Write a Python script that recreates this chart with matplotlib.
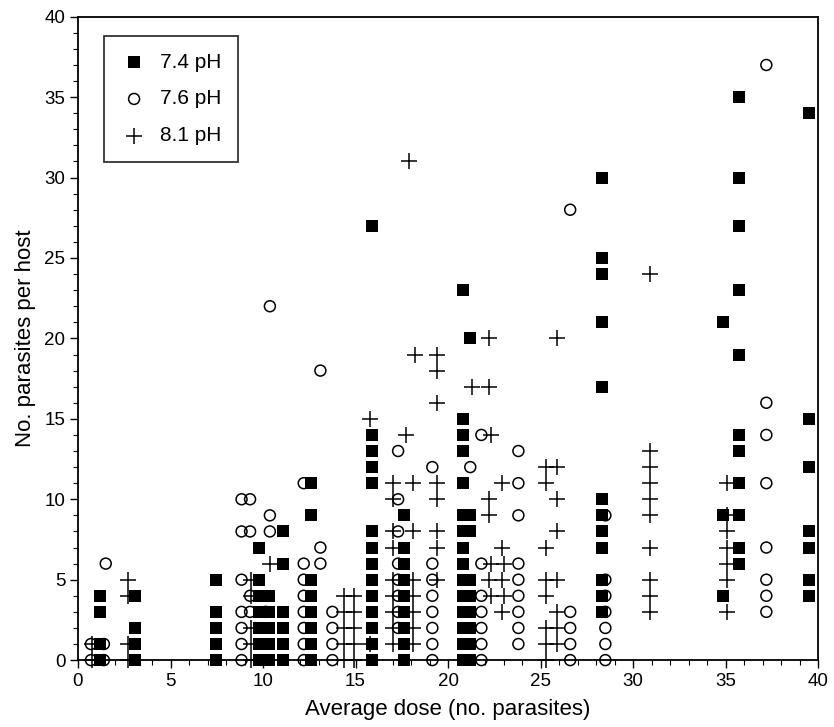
import numpy as np
import matplotlib.pyplot as plt
from matplotlib.ticker import MultipleLocator

plt.rcParams['font.family'] = ['Liberation Sans', 'DejaVu Sans']

# each column: (average dose, counts of parasites per host)
ph74_cols = [
    (1.2, [0, 1, 3, 4]),
    (3.1, [0, 1, 2, 4]),
    (7.45, [0, 1, 2, 3, 5]),
    (9.8, [0, 1, 2, 3, 4, 5, 7]),
    (10.3, [0, 1, 2, 3, 4]),
    (11.1, [0, 1, 2, 3, 6, 8]),
    (12.6, [0, 1, 2, 3, 4, 5, 9, 11]),
    (15.9, [0, 1, 2, 3, 4, 5, 6, 7, 8, 11, 12, 13, 14, 27]),
    (17.6, [0, 1, 2, 3, 4, 5, 6, 7, 9]),
    (20.8, [0, 1, 2, 3, 4, 5, 6, 7, 8, 9, 11, 13, 14, 15, 23]),
    (21.2, [0, 1, 2, 3, 4, 5, 8, 9, 20]),
    (28.3, [3, 4, 5, 7, 8, 9, 10, 17, 21, 24, 25, 30]),
    (34.85, [4, 9, 21]),
    (35.7, [6, 7, 9, 11, 13, 14, 19, 23, 27, 30, 35]),
    (39.5, [4, 5, 7, 8, 12, 15, 34]),
]

ph76_cols = [
    (0.7, [0, 1]),
    (1.4, [0, 1]),
    (1.5, [6]),
    (8.84, [0, 1, 2, 3, 5, 8, 10]),
    (9.3, [3, 4, 8, 10]),
    (10.37, [8, 9, 22]),
    (10.15, [3]),
    (12.2, [0, 1, 2, 3, 4, 5, 6, 11]),
    (13.1, [6, 7, 18]),
    (13.75, [0, 1, 2, 3]),
    (17.3, [2, 3, 4, 5, 6, 8, 10, 13]),
    (19.15, [0, 1, 2, 3, 4, 5, 6, 12]),
    (21.2, [12]),
    (21.8, [0, 1, 2, 3, 4, 6, 14]),
    (23.8, [1, 2, 3, 4, 5, 6, 9, 11, 13]),
    (26.6, [0, 1, 2, 3, 28]),
    (28.5, [0, 1, 2, 3, 4, 5, 9]),
    (37.2, [3, 4, 5, 7, 11, 14, 16, 37]),
]

ph81_cols = [
    (0.74, [0, 1]),
    (2.7, [0, 1, 4, 5]),
    (9.35, [0, 1, 2, 4, 5]),
    (10.4, [6]),
    (14.4, [0, 1, 2, 3, 4]),
    (14.9, [0, 1, 2, 3, 4]),
    (15.8, [1, 15]),
    (17.0, [1, 2, 3, 4, 5, 7, 8, 10, 11]),
    (17.7, [14]),
    (17.9, [31]),
    (18.1, [1, 2, 3, 4, 5, 8, 11]),
    (18.2, [19]),
    (19.4, [5, 7, 8, 10, 11, 16, 18, 19]),
    (21.3, [17]),
    (22.2, [5, 9, 10, 17, 20]),
    (22.3, [4, 6, 14]),
    (22.9, [3, 5, 7, 11]),
    (23.0, [4, 6]),
    (25.3, [0, 1, 2, 4, 5, 7, 11, 12]),
    (25.9, [1, 2, 3, 5, 8, 10, 12, 20]),
    (30.9, [3, 4, 5, 7, 9, 10, 11, 12, 13, 24]),
    (35.1, [3, 5, 6, 7, 8, 9, 11]),
]


def expand(cols):
    xs, ys = [], []
    for x, vals in cols:
        for v in vals:
            xs.append(x)
            ys.append(v)
    return np.array(xs), np.array(ys)


fig = plt.figure(figsize=(8.34, 7.27), dpi=100)
ax = fig.add_axes([0.0935, 0.092, 0.8875, 0.885])

x1, y1 = expand(ph74_cols)
x2, y2 = expand(ph76_cols)
x3, y3 = expand(ph81_cols)

ax.scatter(x1, y1, marker='s', s=72, c='black', linewidths=0, label='7.4 pH', clip_on=False, zorder=3)
ax.scatter(x2, y2, marker='o', s=62, facecolors='none', edgecolors='black', linewidths=1.1, label='7.6 pH', clip_on=False, zorder=3)
ax.scatter(x3, y3, marker='+', s=135, c='black', linewidths=1.1, label='8.1 pH', clip_on=False, zorder=3)

ax.set_xlim(0, 40)
ax.set_ylim(0, 40)
ax.xaxis.set_major_locator(MultipleLocator(5))
ax.yaxis.set_major_locator(MultipleLocator(5))
ax.xaxis.set_minor_locator(MultipleLocator(1))
ax.yaxis.set_minor_locator(MultipleLocator(1))
ax.tick_params(which='major', direction='out', length=6, width=1, labelsize=13.5, pad=3)
ax.tick_params(which='minor', direction='out', length=3.5, width=0.8)
for sp in ax.spines.values():
    sp.set_linewidth(1.3)

ax.set_xlabel('Average dose (no. parasites)', fontsize=16, labelpad=7)
ax.set_ylabel('No. parasites per host', fontsize=16, labelpad=6)

leg = ax.legend(loc='upper left', bbox_to_anchor=(0.035, 0.97), fontsize=15,
                frameon=True, fancybox=False, edgecolor='black', borderpad=0.8,
                labelspacing=0.85, handlelength=1.3, handletextpad=0.6,
                borderaxespad=0, scatterpoints=1)
leg.get_frame().set_linewidth(1.3)

fig.savefig('out.png', dpi=100)
